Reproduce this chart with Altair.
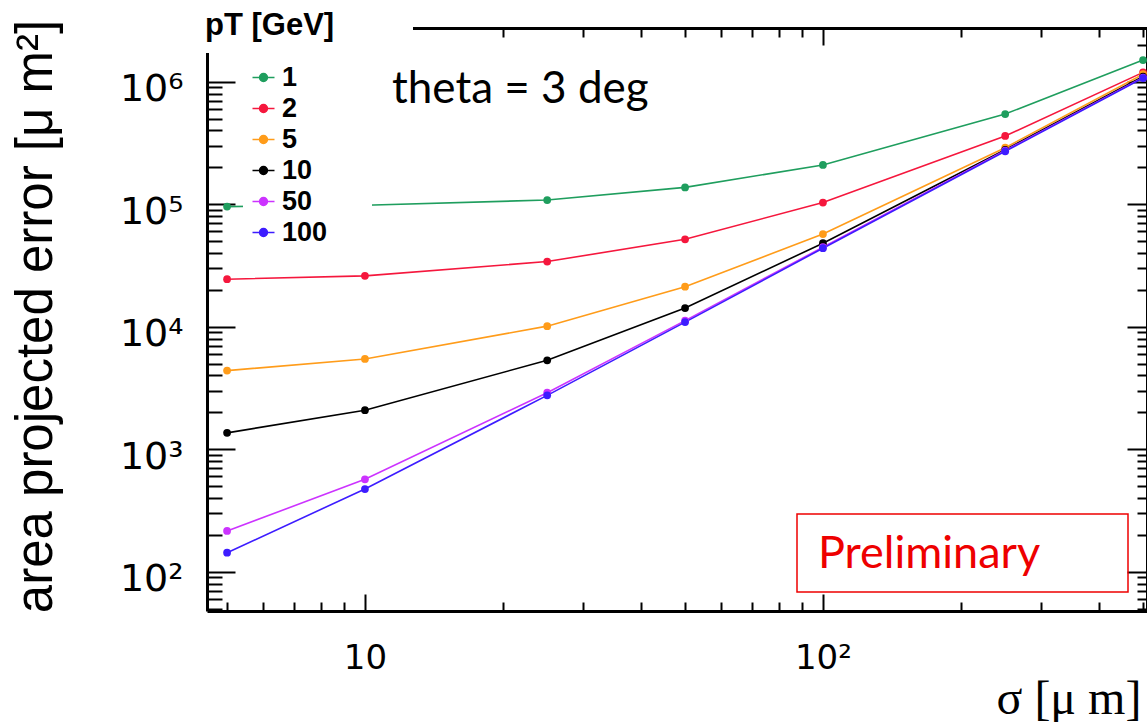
import altair as alt
import pandas as pd

# ---- data ----
sigma = [5, 10, 25, 50, 100, 250, 500]
pt_labels = ["1", "2", "5", "10", "50", "100"]
err_pt1 = [9.55e4, 9.8e4, 1.08e5, 1.37e5, 2.09e5, 5.44e5, 1.50e6]
err_pt2 = [2.44e4, 2.60e4, 3.40e4, 5.17e4, 1.03e5, 3.60e5, 1.19e6]
err_pt5 = [4.38e3, 5.45e3, 1.01e4, 2.12e4, 5.70e4, 2.89e5, 1.15e6]
err_pt10 = [1.36e3, 2.08e3, 5.32e3, 1.42e4, 4.80e4, 2.78e5, 1.10e6]
err_pt50 = [215, 568, 2.89e3, 1.12e4, 4.45e4, 2.74e5, 1.08e6]
err_pt100 = [143, 473, 2.75e3, 1.09e4, 4.37e4, 2.70e5, 1.07e6]
series = [err_pt1, err_pt2, err_pt5, err_pt10, err_pt50, err_pt100]
colors = ["#1f9e5e", "#f5173d", "#ff9c1a", "#000000", "#cc33ff", "#3d1cff"]

x_major = [10, 100]
x_minor = [5, 6, 7, 8, 9, 20, 30, 40, 50, 60, 70, 80, 90, 200, 300, 400, 500]
y_major = [100, 1000, 10000, 100000, 1000000]
y_minor = [50, 60, 70, 80, 90] + [m * 10 ** e for e in range(2, 6) for m in range(2, 10)] + [2000000]

rows = []
for lab, vals in zip(pt_labels, series):
    for s, v in zip(sigma, vals):
        rows.append({"sigma": s, "value": v, "pT": lab})
df = pd.DataFrame(rows)

W, H = 940, 583

xs = alt.Scale(type="log", domain=[4.52, 510], nice=False)
ys = alt.Scale(type="log", domain=[47.8, 2.74e6], nice=False)
cs = alt.Scale(domain=pt_labels, range=colors)

leg = alt.Legend(
    orient="none", legendX=36, legendY=29, title=None,
    fillColor="white", padding=7, zindex=1,
    symbolType="M-1,0L1,0M-0.36,0A0.36,0.36 0 1,0 0.36,0A0.36,0.36 0 1,0 -0.36,0Z",
    symbolSize=484, symbolStrokeWidth=1.5,
    labelFont="Liberation Sans", labelFontSize=27, labelFontWeight="bold",
    labelColor="black", labelOffset=5, rowPadding=3,
)


def frame_axis(orient, offset, values, size, domain):
    return alt.Axis(orient=orient, offset=offset, values=values, tickSize=size,
                    tickWidth=2, tickColor="black", domain=domain, domainWidth=3,
                    domainColor="black", labels=False, title=None, grid=False, zindex=0)


x_label_axis = alt.Axis(
    orient="bottom", values=x_major, ticks=False, tickSize=0, domain=False, grid=False,
    labelFont="DejaVu Sans", labelFontSize=34, labelColor="black", labelPadding=30,
    labelExpr="datum.value == 10 ? '10' : '10\u00b2'",
    title="\u03c3 [\u03bc m]", titleFont="Liberation Serif", titleFontSize=48,
    titleFontWeight="normal", titleColor="black", titleX=789, titleY=102,
    titleAlign="left", titleBaseline="alphabetic", zindex=0,
)
y_label_axis = alt.Axis(
    orient="left", values=y_major, ticks=False, tickSize=0, domain=False, grid=False,
    labelFont="DejaVu Sans", labelFontSize=38, labelColor="black", labelPadding=24,
    labelOffset=8,
    labelExpr="datum.value == 1000000 ? '10\u2076' : datum.value == 100000 ? '10\u2075' : "
              "datum.value == 10000 ? '10\u2074' : datum.value == 1000 ? '10\u00b3' : '10\u00b2'",
    title="area projected error [\u03bc m\u00b2]", titleFont="Liberation Sans",
    titleFontSize=51, titleFontWeight="normal", titleColor="black",
    titleX=-171, titleY=288, titleAngle=270, titleAlign="center", titleBaseline="middle",
    zindex=0,
)

base = alt.Chart(df)

lines = base.mark_line(strokeWidth=1.6).encode(
    x=alt.X("sigma:Q", scale=xs, axis=x_label_axis),
    y=alt.Y("value:Q", scale=ys, axis=y_label_axis),
    color=alt.Color("pT:N", scale=cs, legend=leg, sort=pt_labels),
)
points = base.mark_point(filled=True, size=60, opacity=1).encode(
    x=alt.X("sigma:Q", scale=xs, axis=frame_axis("top", -H, x_major, 17, True)),
    y=alt.Y("value:Q", scale=ys, axis=frame_axis("right", -W, y_major, 28, True)),
    color=alt.Color("pT:N", scale=cs, legend=leg, sort=pt_labels),
)
minor1 = base.mark_point(opacity=0).encode(
    x=alt.X("sigma:Q", scale=xs, axis=frame_axis("top", -H, x_minor, 9, False)),
    y=alt.Y("value:Q", scale=ys, axis=frame_axis("right", -W, y_minor, 15, False)),
)
top_right_major = base.mark_point(opacity=0).encode(
    x=alt.X("sigma:Q", scale=xs, axis=frame_axis("bottom", -H, x_major, 17, True)),
    y=alt.Y("value:Q", scale=ys, axis=frame_axis("left", -W, y_major, 20, True)),
)
top_right_minor = base.mark_point(opacity=0).encode(
    x=alt.X("sigma:Q", scale=xs, axis=frame_axis("bottom", -H, x_minor, 9, False)),
    y=alt.Y("value:Q", scale=ys, axis=frame_axis("left", -W, y_minor, 10, False)),
)

one = alt.Data(values=[{}])
# white boxes behind the pasted title and the legend (they hide the frame / curve there)
cover = alt.Chart(one).mark_rect(color="white").encode(
    x=alt.value(-15), x2=alt.value(206), y=alt.value(-28), y2=alt.value(25)
)
legend_box = alt.Chart(one).mark_rect(color="white").encode(
    x=alt.value(36), x2=alt.value(165), y=alt.value(29), y2=alt.value(217)
)
pt_title = alt.Chart(one).mark_text(
    text="pT [GeV]", align="left", baseline="alphabetic", font="Liberation Sans",
    fontSize=31, fontWeight="bold", color="black"
).encode(x=alt.value(-2), y=alt.value(7))
theta_txt = alt.Chart(one).mark_text(
    text="theta = 3 deg", align="left", baseline="alphabetic", font="Lato",
    fontSize=44, color="black"
).encode(x=alt.value(185), y=alt.value(75))
prelim_box = alt.Chart(one).mark_rect(fillOpacity=0, stroke="#ee0000", strokeWidth=1.5).encode(
    x=alt.value(590), x2=alt.value(921), y=alt.value(486), y2=alt.value(564)
)
prelim_txt = alt.Chart(one).mark_text(
    text="Preliminary", align="left", baseline="alphabetic", font="Lato",
    fontSize=45, color="#ee0000"
).encode(x=alt.value(611), y=alt.value(540))

chart = alt.layer(
    lines, points, minor1, top_right_major, top_right_minor,
    cover, legend_box, pt_title, theta_txt, prelim_box, prelim_txt,
).resolve_axis(x="independent", y="independent").properties(
    width=W, height=H,
    autosize=alt.AutoSizeParams(type="none"),
    padding={"left": 207, "top": 28, "right": 0, "bottom": 111},
    background="white",
).configure_view(stroke="transparent")

chart.save("out.html", embed_options={"renderer": "svg", "actions": False})
